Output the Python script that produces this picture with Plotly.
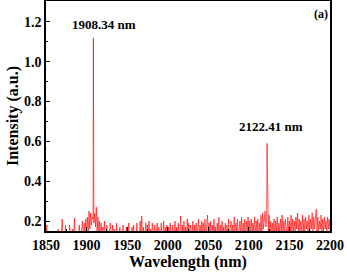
import plotly.graph_objects as go

# Wavelength (nm) 1850..2200 in 1 nm steps, plus the two labelled peaks
wl_start = 1850
noise_1850_1899 = [0.12,0.18,0.11,0.13,0.10,0.14,0.12,0.11,0.13,0.10,
                   0.12,0.11,0.14,0.10,0.12,0.16,0.11,0.13,0.10,0.15,
                   0.21,0.11,0.13,0.10,0.18,0.12,0.11,0.14,0.10,0.18,
                   0.12,0.11,0.13,0.16,0.10,0.215,0.12,0.11,0.14,0.10,
                   0.13,0.18,0.11,0.12,0.16,0.20,0.11,0.19,0.13,0.21]
noise_1900_1949 = [0.14,0.22,0.13,0.25,0.16,0.24,0.18,0.22,0.21,0.19,
                   0.24,0.17,0.27,0.15,0.22,0.13,0.20,0.12,0.19,0.11,
                   0.17,0.11,0.20,0.12,0.10,0.18,0.11,0.13,0.10,0.19,
                   0.12,0.11,0.18,0.10,0.16,0.12,0.11,0.19,0.10,0.14,
                   0.11,0.17,0.10,0.13,0.11,0.18,0.10,0.15,0.12,0.17]
noise_1950_1999 = [0.10,0.13,0.19,0.11,0.14,0.10,0.17,0.12,0.18,0.10,
                   0.13,0.11,0.19,0.10,0.14,0.12,0.20,0.11,0.225,0.10,
                   0.17,0.11,0.13,0.19,0.10,0.18,0.12,0.20,0.10,0.16,
                   0.11,0.19,0.12,0.10,0.18,0.11,0.14,0.19,0.10,0.17,
                   0.12,0.11,0.19,0.10,0.14,0.20,0.11,0.17,0.10,0.18]
noise_2000_2049 = [0.12,0.17,0.11,0.19,0.13,0.10,0.18,0.11,0.14,0.20,
                   0.11,0.17,0.10,0.19,0.12,0.14,0.225,0.11,0.18,0.12,
                   0.20,0.11,0.17,0.12,0.21,0.13,0.19,0.11,0.18,0.16,
                   0.12,0.20,0.11,0.18,0.13,0.19,0.11,0.17,0.21,0.12,
                   0.18,0.11,0.20,0.13,0.19,0.12,0.21,0.11,0.17,0.23]
noise_2050_2099 = [0.13,0.19,0.12,0.20,0.11,0.18,0.13,0.21,0.12,0.17,
                   0.11,0.19,0.13,0.22,0.12,0.18,0.11,0.20,0.13,0.17,
                   0.12,0.19,0.11,0.18,0.13,0.21,0.12,0.17,0.20,0.11,
                   0.18,0.13,0.22,0.12,0.19,0.14,0.21,0.12,0.18,0.20,
                   0.13,0.22,0.12,0.19,0.14,0.21,0.13,0.20,0.15,0.22]
noise_2100_2149 = [0.13,0.20,0.14,0.21,0.12,0.19,0.15,0.22,0.13,0.20,
                   0.14,0.21,0.12,0.19,0.15,0.23,0.13,0.24,0.16,0.21,
                   0.25,0.17,0.22,0.21,0.15,0.23,0.14,0.20,0.13,0.19,
                   0.14,0.21,0.12,0.20,0.15,0.22,0.13,0.19,0.14,0.21,
                   0.15,0.23,0.13,0.20,0.14,0.21,0.16,0.13,0.22,0.15]
noise_2150_2200 = [0.20,0.14,0.23,0.13,0.21,0.15,0.20,0.14,0.22,0.16,
                   0.24,0.14,0.21,0.15,0.20,0.13,0.23,0.15,0.21,0.14,
                   0.22,0.16,0.20,0.14,0.23,0.15,0.21,0.16,0.24,0.14,
                   0.22,0.16,0.21,0.26,0.15,0.22,0.14,0.20,0.16,0.23,
                   0.14,0.21,0.15,0.22,0.16,0.20,0.14,0.22,0.16,0.21,0.15]

peak_wl = [1908.34, 2122.41]
peak_int = [1.12, 0.59]
peak_labels = ["1908.34 nm", "2122.41 nm"]

noise = (noise_1850_1899 + noise_1900_1949 + noise_1950_1999 +
         noise_2000_2049 + noise_2050_2099 + noise_2100_2149 + noise_2150_2200)
pts = [(wl_start + i, v) for i, v in enumerate(noise)]
pts += list(zip(peak_wl, peak_int))
pts.sort()
xs = [p[0] for p in pts]
ys = [p[1] for p in pts]

font_fam = "Liberation Serif, Times New Roman, serif"

fig = go.Figure()
fig.add_trace(go.Scatter(x=xs, y=ys, mode="lines",
                         line=dict(color="rgba(255,0,0,0.8)", width=0.8),
                         showlegend=False, hoverinfo="skip"))

fig.add_annotation(x=peak_wl[0], y=1.188, xshift=11, text="<b>" + peak_labels[0] + "</b>",
                   showarrow=False, font=dict(family=font_fam, size=13, color="black"))
fig.add_annotation(x=peak_wl[1], y=0.675, xshift=3.5, text="<b>" + peak_labels[1] + "</b>",
                   showarrow=False, font=dict(family=font_fam, size=13, color="black"))
fig.add_annotation(x=2189, y=1.24, text="<b>(a)</b>", showarrow=False,
                   font=dict(family=font_fam, size=12, color="black"))

axis_common = dict(showline=True, linecolor="black", linewidth=1.5, mirror=True,
                   ticks="inside", ticklen=4, tickwidth=1.2, tickcolor="black",
                   showgrid=False, zeroline=False, automargin=False,
                   tickfont=dict(family=font_fam, size=14, color="black"))

fig.update_xaxes(range=[1850, 2200], dtick=50, tick0=1850,
                 minor=dict(ticks="inside", ticklen=2.5, dtick=25, tickcolor="black"),
                 title=dict(text="<b>Wavelength (nm)</b>", standoff=1,
                            font=dict(family=font_fam, size=16, color="black")),
                 tickprefix="<b>", ticksuffix="</b>", **axis_common)
fig.update_yaxes(range=[0.15, 1.305], dtick=0.2, tick0=0.2, tickformat=".1f",
                 minor=dict(ticks="inside", ticklen=2.5, dtick=0.1, tick0=0.1, tickcolor="black"),
                 title=dict(text="<b>Intensity (a.u.)</b>", standoff=1,
                            font=dict(family=font_fam, size=16, color="black")),
                 tickprefix="<b>", ticksuffix="</b>", **axis_common)

fig.update_layout(width=347, height=272, margin=dict(l=46, r=17, t=1, b=41),
                  paper_bgcolor="white", plot_bgcolor="white")

fig.write_html("out.html", config={"displayModeBar": False},
               post_script="document.body.style.margin='0';")
